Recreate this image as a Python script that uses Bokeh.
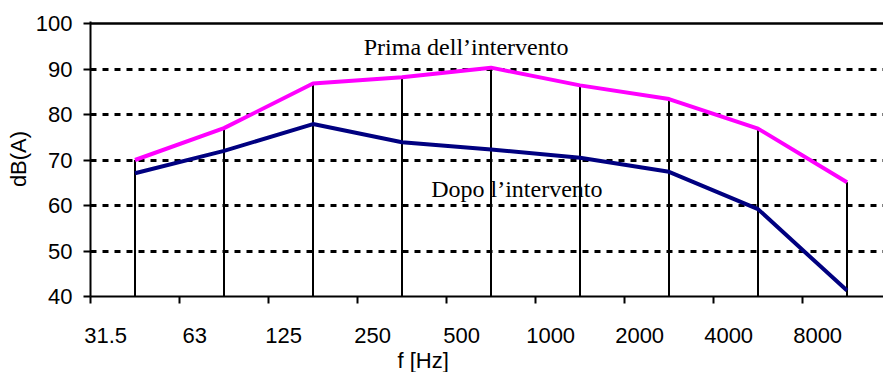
from bokeh.plotting import figure
from bokeh.models import FixedTicker, Range1d, Span, Label, ColumnDataSource, Title
from bokeh.embed import file_html
from bokeh.resources import INLINE

# ---- data ----
freq_labels = ["31.5", "63", "125", "250", "500", "1000", "2000", "4000", "8000"]
prima = [70.0, 77.0, 86.8, 88.2, 90.3, 86.4, 83.4, 76.9, 65.1]
dopo = [67.1, 72.0, 77.9, 73.9, 72.3, 70.5, 67.4, 59.2, 41.3]
y_ticks = [40, 50, 60, 70, 80, 90, 100]
grid_values = [50, 60, 70, 80, 90]
y_min, y_max = 40, 100

# category geometry (category index units)
xs = [i + 0.5 for i in range(len(freq_labels))]
label_pos = [round(i + 0.17, 2) for i in range(len(freq_labels))]
boundaries = list(range(len(freq_labels)))
tops = [max(a, b) for a, b in zip(prima, dopo)]

src = ColumnDataSource(dict(x=xs, prima=prima, dopo=dopo, top=tops,
                            base=[y_min] * len(xs)))

W, H = 883, 372
p = figure(width=W, height=H,
           x_range=Range1d(0, (W - 90) / 89), y_range=Range1d(y_min, y_max + 0.44),
           output_backend="svg", toolbar_location=None,
           min_border_left=90, min_border_right=0,
           min_border_top=21, min_border_bottom=75)
p.outline_line_color = None
p.background_fill_color = "white"

# grid
p.xgrid.visible = False
p.ygrid.ticker = FixedTicker(ticks=grid_values)
p.ygrid.grid_line_color = "black"
p.ygrid.grid_line_width = 3
p.ygrid.grid_line_dash = "6 6"
p.add_layout(Span(location=y_max, dimension="width", line_color="black", line_width=2.5))

# drop lines
p.segment(x0="x", y0="base", x1="x", y1="top", source=src, line_color="black", line_width=2)

# series
p.line("x", "prima", source=src, line_color="#FF00FF", line_width=4)
p.line("x", "dopo", source=src, line_color="#000080", line_width=4)

# y axis
ya = p.yaxis[0]
ya.ticker = FixedTicker(ticks=y_ticks)
ya.axis_line_width = 2
ya.axis_line_color = "black"
ya.major_tick_line_width = 2
ya.major_tick_out = 7
ya.major_tick_in = 0
ya.minor_tick_line_color = None
ya.major_label_standoff = 11
ya.major_label_text_font = "Liberation Sans"
ya.major_label_text_font_size = "22px"
ya.major_label_text_color = "black"
ya.axis_label = "dB(A)"
ya.axis_label_standoff = 2
ya.axis_label_text_font = "Liberation Sans"
ya.axis_label_text_font_size = "22px"
ya.axis_label_text_font_style = "normal"
ya.axis_label_text_color = "black"

# x axis
xa = p.xaxis[0]
xa.ticker = FixedTicker(ticks=label_pos, minor_ticks=boundaries)
xa.major_label_overrides = {pos: lab for pos, lab in zip(label_pos, freq_labels)}
xa.axis_line_width = 2
xa.axis_line_color = "black"
xa.major_tick_out = 0
xa.major_tick_in = 0
xa.major_tick_line_color = None
xa.minor_tick_out = 7
xa.minor_tick_in = 0
xa.minor_tick_line_width = 2
xa.minor_tick_line_color = "black"
xa.major_label_standoff = 24
xa.major_label_text_font = "Liberation Sans"
xa.major_label_text_font_size = "22px"
xa.major_label_text_color = "black"

# x axis title, placed left of centre as in the original
p.add_layout(Title(text="f [Hz]", align="left", offset=307, standoff=0,
                   text_font="Liberation Sans", text_font_size="22px",
                   text_font_style="normal", text_color="black"), "below")

# texts in the plot
p.add_layout(Label(x=4.22, y=94.8, text="Prima dell\u2019intervento",
                   text_font="Liberation Serif", text_font_size="24px",
                   text_align="center", text_baseline="alphabetic", text_color="black"))
p.add_layout(Label(x=4.79, y=63.65, text="Dopo l\u2019intervento",
                   text_font="Liberation Serif", text_font_size="24px",
                   text_align="center", text_baseline="alphabetic", text_color="black"))

open("out.html", "w").write(file_html(p, INLINE))
